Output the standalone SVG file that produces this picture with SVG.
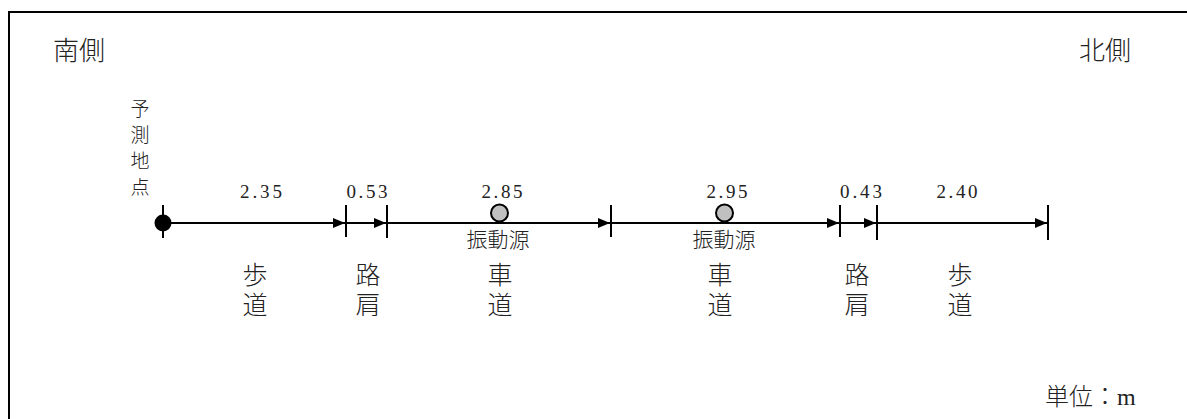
<svg xmlns="http://www.w3.org/2000/svg" width="1187" height="419" viewBox="0 0 1187 419">
<style>
.jp{font-family:"Noto Sans CJK JP","Liberation Sans",sans-serif;fill:#222;font-weight:300}
.num{font-family:"Liberation Serif",serif;font-size:19px;fill:#222;text-anchor:middle}
.vert{writing-mode:vertical-rl;text-orientation:upright}
.lbl{font-size:25px;letter-spacing:5px}
.src{font-size:21px;text-anchor:middle}
.ln{stroke:#000;stroke-width:2;fill:none}
.tick{stroke:#000;stroke-width:2}
</style>
<defs>
<marker id="arr" markerWidth="12" markerHeight="10" refX="12" refY="5" orient="auto" markerUnits="userSpaceOnUse">
<path d="M0,0 L12,5 L0,10 Z" fill="#000"/>
</marker>
</defs>
<g id="frame">
<line x1="9" y1="12" x2="1187" y2="12" stroke="#000" stroke-width="2"/>
<line x1="9" y1="11" x2="9" y2="419" stroke="#000" stroke-width="2"/>
</g>
<g id="headings">
<text class="jp" x="53" y="60" font-size="26">南側</text>
<text class="jp" x="1131" y="60" font-size="26" text-anchor="end">北側</text>
<text class="jp" x="1045" y="405" font-size="24">単位：<tspan font-family="Liberation Serif, serif">m</tspan></text>
</g>
<g id="point">
<text class="jp vert" x="140" y="99" font-size="19" letter-spacing="7">予測地点</text>
<line class="tick" x1="163" y1="205" x2="163" y2="238"/>
<circle cx="163" cy="223" r="8.5" fill="#000"/>
</g>
<g id="connectors">
<line class="ln" x1="163" y1="223" x2="345" y2="223" marker-end="url(#arr)"/>
<line class="ln" x1="346" y1="223" x2="386" y2="223" marker-end="url(#arr)"/>
<line class="ln" x1="387" y1="223" x2="610" y2="223" marker-end="url(#arr)"/>
<line class="ln" x1="611" y1="223" x2="839" y2="223" marker-end="url(#arr)"/>
<line class="ln" x1="840" y1="223" x2="876" y2="223" marker-end="url(#arr)"/>
<line class="ln" x1="877" y1="223" x2="1047" y2="223" marker-end="url(#arr)"/>
</g>
<g id="ticks">
<line class="tick" x1="346" y1="205" x2="346" y2="237"/>
<line class="tick" x1="387" y1="205" x2="387" y2="238"/>
<line class="tick" x1="611" y1="205" x2="611" y2="237"/>
<line class="tick" x1="840" y1="205" x2="840" y2="237"/>
<line class="tick" x1="877" y1="205" x2="877" y2="240"/>
<line class="tick" x1="1048" y1="205" x2="1048" y2="240"/>
</g>
<g id="sources">
<circle cx="499.5" cy="213" r="8.5" fill="#c0c0c0" stroke="#000" stroke-width="2"/>
<circle cx="724.5" cy="213" r="8.5" fill="#c0c0c0" stroke="#000" stroke-width="2"/>
<text class="jp src" x="498" y="247">振動源</text>
<text class="jp src" x="724" y="247">振動源</text>
</g>
<g id="dims">
<text class="num" x="261" y="198" textLength="42">2.35</text>
<text class="num" x="367" y="198" textLength="41">0.53</text>
<text class="num" x="502" y="198" textLength="41">2.85</text>
<text class="num" x="727" y="198" textLength="41">2.95</text>
<text class="num" x="861" y="198" textLength="42">0.43</text>
<text class="num" x="957" y="198" textLength="41">2.40</text>
</g>
<g id="zones">
<text class="jp vert lbl" x="255" y="262">歩道</text>
<text class="jp vert lbl" x="368" y="262">路肩</text>
<text class="jp vert lbl" x="500" y="262">車道</text>
<text class="jp vert lbl" x="720" y="262">車道</text>
<text class="jp vert lbl" x="857" y="262">路肩</text>
<text class="jp vert lbl" x="960" y="262">歩道</text>
</g>
</svg>
